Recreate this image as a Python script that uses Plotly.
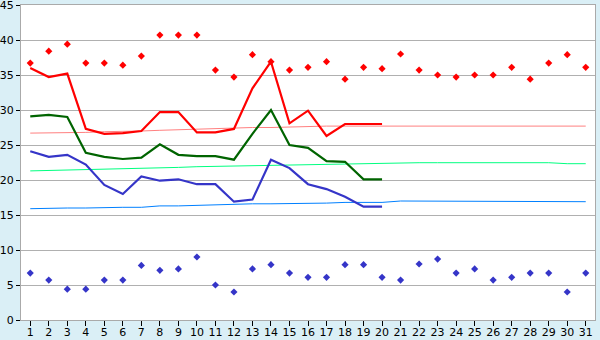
import plotly.graph_objects as go

days = list(range(1, 32))

rec_max = [36.7, 38.4, 39.4, 36.7, 36.7, 36.4, 37.7, 40.7, 40.7, 40.7,
           35.7, 34.7, 37.9, 36.9, 35.7, 36.1, 36.9, 34.4, 36.1, 35.9,
           38.0, 35.7, 35.0, 34.7, 35.0, 35.0, 36.1, 34.4, 36.7, 37.9, 36.1]
rec_min = [6.7, 5.7, 4.4, 4.4, 5.7, 5.7, 7.8, 7.1, 7.3, 9.0,
           5.0, 4.0, 7.3, 7.9, 6.7, 6.1, 6.1, 7.9, 7.9, 6.1,
           5.7, 8.0, 8.7, 6.7, 7.3, 5.7, 6.1, 6.7, 6.7, 4.0, 6.7]

obs_days = list(range(1, 21))
obs_max = [36.0, 34.7, 35.2, 27.3, 26.6, 26.7, 27.0, 29.7, 29.7, 26.8,
           26.8, 27.3, 33.1, 36.9, 28.1, 29.9, 26.3, 28.0, 28.0, 28.0]
obs_avg = [29.1, 29.3, 29.0, 23.9, 23.3, 23.0, 23.2, 25.1, 23.6, 23.4,
           23.4, 22.9, 26.6, 30.0, 25.0, 24.6, 22.7, 22.6, 20.1, 20.1]
obs_min = [24.1, 23.3, 23.6, 22.2, 19.3, 18.0, 20.5, 19.9, 20.1, 19.4,
           19.4, 16.9, 17.2, 22.9, 21.7, 19.4, 18.7, 17.6, 16.2, 16.2]

norm_max = [26.7, 26.7, 26.8, 26.8, 26.9, 26.9, 27.0, 27.1, 27.2, 27.3,
            27.4, 27.4, 27.5, 27.5, 27.6, 27.6, 27.7, 27.7, 27.7, 27.7,
            27.7, 27.7, 27.7, 27.7, 27.7, 27.7, 27.7, 27.7, 27.7, 27.7, 27.7]
norm_avg = [21.3, 21.35, 21.4, 21.5, 21.55, 21.6, 21.7, 21.75, 21.8, 21.9,
            21.95, 22.0, 22.0, 22.05, 22.1, 22.2, 22.3, 22.35, 22.4, 22.45,
            22.47, 22.47, 22.47, 22.47, 22.47, 22.47, 22.47, 22.47, 22.47, 22.33, 22.33]
norm_min = [15.9, 16.0, 16.0, 16.0, 16.1, 16.1, 16.1, 16.3, 16.3, 16.4,
            16.4, 16.5, 16.6, 16.6, 16.6, 16.7, 16.7, 16.8, 16.8, 16.8,
            17.0, 17.0, 17.0, 17.0, 17.0, 17.0, 17.0, 17.0, 17.0, 16.9, 16.9]

y_ticks = list(range(0, 46, 5))

fig = go.Figure()
fig.add_trace(go.Scatter(x=days, y=norm_max, mode="lines", line=dict(color="#ff8080", width=1)))
fig.add_trace(go.Scatter(x=days, y=norm_avg, mode="lines", line=dict(color="#00ff80", width=1)))
fig.add_trace(go.Scatter(x=days, y=norm_min, mode="lines", line=dict(color="#0080ff", width=1)))
fig.add_trace(go.Scatter(x=obs_days, y=obs_max, mode="lines", line=dict(color="#ff0000", width=2.2)))
fig.add_trace(go.Scatter(x=obs_days, y=obs_avg, mode="lines", line=dict(color="#006400", width=2.2)))
fig.add_trace(go.Scatter(x=obs_days, y=obs_min, mode="lines", line=dict(color="#3535c8", width=2.2)))
fig.add_trace(go.Scatter(x=days, y=rec_max, mode="markers",
                         marker=dict(symbol="diamond", size=5.5, color="#ff0000", line=dict(width=0))))
fig.add_trace(go.Scatter(x=days, y=rec_min, mode="markers",
                         marker=dict(symbol="diamond", size=5.5, color="#3535c8", line=dict(width=0))))

fig.update_layout(
    width=600, height=340,
    margin=dict(l=21, r=5, t=5, b=20, pad=0),
    paper_bgcolor="#daeff6",
    plot_bgcolor="#ffffff",
    showlegend=False,
    font=dict(family="DejaVu Sans", size=11, color="#000000"),
)
fig.update_xaxes(
    range=[0.5, 31.5], tickmode="array", tickvals=days, ticktext=[str(d) for d in days],
    showgrid=False, zeroline=False, showline=True, linecolor="#aaaaaa", linewidth=1, mirror=True,
    ticks="outside", ticklen=5, tickcolor="#000000", tickfont=dict(size=11),
    automargin=False, ticklabeloverflow="allow", ticklabelstandoff=-3,
)
fig.update_yaxes(
    range=[0, 45], tickmode="array", tickvals=y_ticks, ticktext=[str(v) for v in y_ticks],
    showgrid=True, gridcolor="#b0b0b0", gridwidth=1, zeroline=False,
    showline=True, linecolor="#aaaaaa", linewidth=1, mirror=True,
    ticks="outside", ticklen=4, tickcolor="#000000", tickfont=dict(size=11),
    automargin=False, ticklabeloverflow="allow",
)

fig.write_html("out.html")
